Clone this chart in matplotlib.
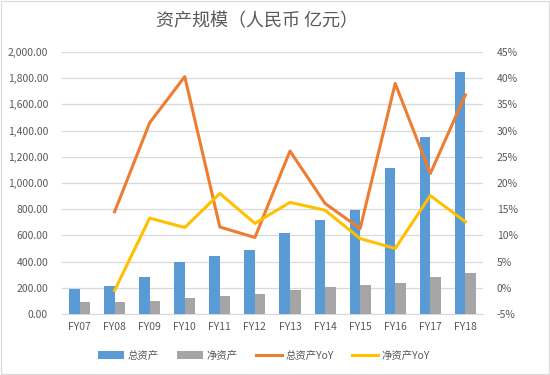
import numpy as np
import matplotlib.pyplot as plt
from matplotlib.ticker import FuncFormatter, MultipleLocator
from matplotlib.patches import Rectangle

plt.rcParams['font.family'] = ['Noto Sans CJK SC', 'DejaVu Sans']

years = ['FY07', 'FY08', 'FY09', 'FY10', 'FY11', 'FY12',
         'FY13', 'FY14', 'FY15', 'FY16', 'FY17', 'FY18']
total_assets = [188, 216, 285, 400, 445, 489, 616, 718, 794, 1112, 1353, 1847]
net_assets = [94, 94, 102, 120, 137, 150, 183, 204, 221, 239, 285, 315]
total_yoy = [np.nan, 14.5, 31.5, 40.3, 11.6, 9.6, 26.1, 16.1, 11.3, 39.0, 21.8, 36.8]
net_yoy = [np.nan, -0.5, 13.3, 11.5, 18.0, 12.3, 16.3, 14.8, 9.4, 7.5, 17.6, 12.6]

blue = '#5B9BD5'
gray = '#A5A5A5'
orange = '#ED7D31'
yellow = '#FFC000'
txt = '#595959'

fig = plt.figure(figsize=(5.5, 3.75), dpi=100)
ax = fig.add_axes([0.1127, 0.1627, 0.7653, 0.6986])
ax2 = ax.twinx()

x = np.arange(len(years))
w = 0.3
b1 = ax.bar(x - w / 2, total_assets, w, color=blue, label='总资产', zorder=3)
b2 = ax.bar(x + w / 2, net_assets, w, color=gray, label='净资产', zorder=3)

l1, = ax2.plot(x, total_yoy, color=orange, lw=2.2, label='总资产YoY')
l2, = ax2.plot(x, net_yoy, color=yellow, lw=2.2, label='净资产YoY')

ax.set_xlim(-0.5, len(years) - 0.5)
ax.set_ylim(0, 2000)
ax.yaxis.set_major_locator(MultipleLocator(200))
ax.yaxis.set_major_formatter(FuncFormatter(lambda v, p: f'{v:,.2f}'))
ax2.set_ylim(-5, 45)
ax2.yaxis.set_major_locator(MultipleLocator(5))
ax2.yaxis.set_major_formatter(FuncFormatter(lambda v, p: f'{v:.0f}%'))

ax.grid(axis='y', color='#D9D9D9', lw=0.9, zorder=0)
ax.set_axisbelow(True)
for a in (ax, ax2):
    for s in a.spines.values():
        s.set_visible(False)
    a.tick_params(length=0, labelsize=7.5, colors=txt)
ax.spines['bottom'].set_visible(True)
ax.spines['bottom'].set_color('#D9D9D9')
ax.set_xticks(x)
ax.set_xticklabels(years)
ax.tick_params(axis='x', pad=6)
ax.tick_params(axis='y', pad=10)
ax2.tick_params(axis='y', pad=10)

fig.text(0.468, 0.943, '资产规模（人民币 亿元）', ha='center', va='center',
         fontsize=13, color=txt)

fig.legend(handles=[b1, b2, l1, l2], loc='center', bbox_to_anchor=(0.48, 0.052),
           ncol=4, frameon=False, fontsize=7.5, labelcolor=txt,
           handlelength=2.5, handletextpad=0.3, columnspacing=1.8)

fig.patches.append(Rectangle((0.002, 0.003), 0.996, 0.994, transform=fig.transFigure,
                             fill=False, edgecolor='#D9D9D9', lw=0.8))

fig.savefig('out.png', dpi=100)
